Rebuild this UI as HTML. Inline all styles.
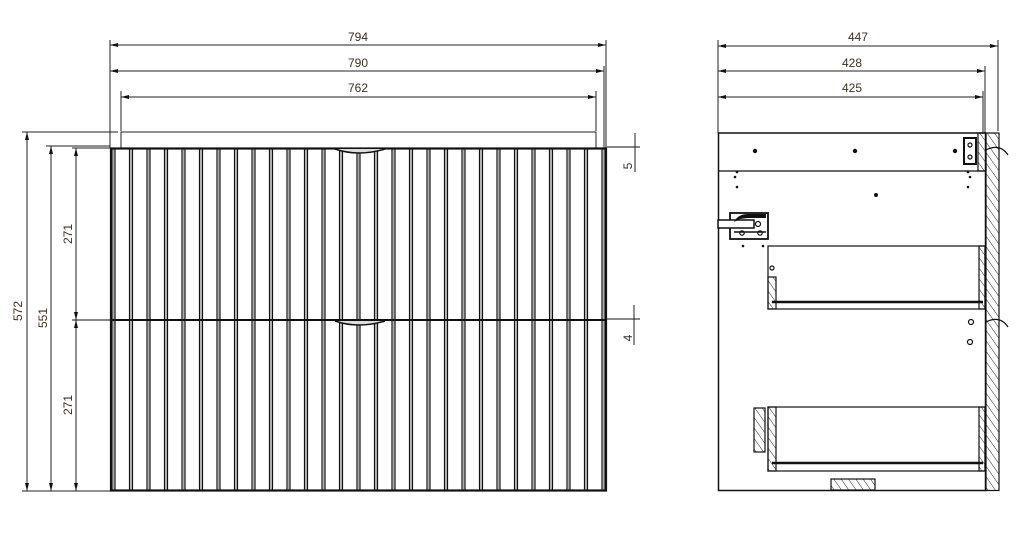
<!DOCTYPE html>
<html><head><meta charset="utf-8"><style>
html,body{margin:0;padding:0;background:#fff;}
svg{display:block;}
text{font-family:"Liberation Sans",sans-serif;font-size:12px;fill:#3a3020;}
</style></head><body>
<svg width="1024" height="552" viewBox="0 0 1024 552" xmlns="http://www.w3.org/2000/svg">
<defs>
<pattern id="slat" patternUnits="userSpaceOnUse" x="128.5" y="0" width="17.5" height="10">
<line x1="1" y1="0" x2="1" y2="10" stroke="#111" stroke-width="1.2"/>
<line x1="2.5" y1="0" x2="2.5" y2="10" stroke="#aaa" stroke-width="1.5"/>
<line x1="4" y1="0" x2="4" y2="10" stroke="#111" stroke-width="1.2"/>
</pattern>
<pattern id="hatch" patternUnits="userSpaceOnUse" width="6" height="6" patternTransform="rotate(-35)">
<line x1="0" y1="0" x2="0" y2="6" stroke="#222" stroke-width="1"/>
</pattern>
<marker id="ar" markerWidth="8" markerHeight="6" refX="8" refY="3" orient="auto-start-reverse" markerUnits="userSpaceOnUse">
<path d="M0,1 L8,3 L0,5 Z" fill="#111"/>
</marker>
</defs>
<g stroke="#222" stroke-width="1" fill="none">
<line x1="110" y1="40" x2="110" y2="148"/>
<line x1="606" y1="40" x2="606" y2="148"/>
<line x1="604" y1="66" x2="604" y2="148"/>
<line x1="121" y1="91" x2="121" y2="131"/>
<line x1="596" y1="91" x2="596" y2="131"/>
<line x1="110" y1="45" x2="606" y2="45" marker-start="url(#ar)" marker-end="url(#ar)"/>
<line x1="110" y1="71" x2="604" y2="71" marker-start="url(#ar)" marker-end="url(#ar)"/>
<line x1="121" y1="97" x2="596" y2="97" marker-start="url(#ar)" marker-end="url(#ar)"/>
<rect x="121" y="132" width="475" height="16"/>
<line x1="22" y1="132" x2="118" y2="132"/>
<line x1="46" y1="146" x2="110" y2="146"/>
<line x1="72" y1="148" x2="110" y2="148"/>
<line x1="72" y1="320" x2="110" y2="320" stroke="#888" stroke-width="2"/>
<line x1="22" y1="491" x2="110" y2="491"/>
<line x1="27" y1="132" x2="27" y2="491" marker-start="url(#ar)" marker-end="url(#ar)"/>
<line x1="51" y1="146" x2="51" y2="491" marker-start="url(#ar)" marker-end="url(#ar)"/>
<line x1="76" y1="148" x2="76" y2="320" marker-start="url(#ar)" marker-end="url(#ar)"/>
<line x1="76" y1="320" x2="76" y2="491" marker-start="url(#ar)" marker-end="url(#ar)"/>
<line x1="606" y1="147" x2="640" y2="147" stroke="#888" stroke-width="2"/>
<line x1="635" y1="133" x2="635" y2="172"/>
<line x1="606" y1="319" x2="640" y2="319" stroke="#888" stroke-width="2"/>
<line x1="634" y1="305" x2="634" y2="345"/>
</g>
<rect x="111" y="148" width="495" height="172" fill="url(#slat)"/>
<rect x="111" y="321" width="495" height="169" fill="url(#slat)"/>
<g stroke="#111" fill="none">
<rect x="111" y="148.5" width="495" height="342" stroke-width="2.2"/>
<line x1="111" y1="320" x2="606" y2="320" stroke-width="2"/>
<path d="M265,148.5 L450,148.5" stroke-width="2"/>
<path d="M335,149 Q358,157 385,149" stroke-width="1.5" fill="#ddd"/>
<path d="M335,321 Q358,329 385,321" stroke-width="1.5" fill="#ddd"/>
</g>
<text x="358" y="41" text-anchor="middle">794</text>
<text x="358" y="67" text-anchor="middle">790</text>
<text x="358" y="92" text-anchor="middle">762</text>
<text transform="translate(22,311) rotate(-90)" text-anchor="middle">572</text>
<text transform="translate(47,318) rotate(-90)" text-anchor="middle">551</text>
<text transform="translate(72,234) rotate(-90)" text-anchor="middle">271</text>
<text transform="translate(72,405) rotate(-90)" text-anchor="middle">271</text>
<text transform="translate(632,166) rotate(-90)" text-anchor="middle">5</text>
<text transform="translate(632,338) rotate(-90)" text-anchor="middle">4</text>
<g stroke="#222" stroke-width="1" fill="none">
<line x1="718" y1="40" x2="718" y2="133"/>
<line x1="998" y1="40" x2="998" y2="131"/>
<line x1="985" y1="66" x2="985" y2="133"/>
<line x1="983" y1="91" x2="983" y2="133"/>
<line x1="718" y1="46" x2="998" y2="46" marker-start="url(#ar)" marker-end="url(#ar)"/>
<line x1="718" y1="71" x2="985" y2="71" marker-start="url(#ar)" marker-end="url(#ar)"/>
<line x1="718" y1="97" x2="983" y2="97" marker-start="url(#ar)" marker-end="url(#ar)"/>
</g>
<text x="858" y="41" text-anchor="middle">447</text>
<text x="852" y="67" text-anchor="middle">428</text>
<text x="852" y="92" text-anchor="middle">425</text>
<g stroke="#111" fill="none" stroke-width="1.2">
<rect x="718.5" y="133" width="267" height="357.5" stroke-width="1.5"/>
<line x1="718" y1="171" x2="986" y2="171"/>
<rect x="986" y="133" width="13" height="357.5" fill="url(#hatch)"/>
<rect x="978" y="133" width="8" height="38" fill="url(#hatch)"/>
<rect x="964" y="138" width="12" height="26" fill="#fff" stroke-width="2"/>
<circle cx="970" cy="145" r="2"/><circle cx="970" cy="157" r="2"/>
<path d="M986,150 Q1000,143 1008,155"/>
<path d="M986,322 Q1000,315 1008,327"/>
<rect x="768" y="246" width="217" height="63"/>
<rect x="768" y="277" width="8" height="32" fill="url(#hatch)"/>
<rect x="979" y="246" width="6" height="63" fill="url(#hatch)"/>
<line x1="772" y1="302" x2="983" y2="302" stroke-width="2.5"/>
<rect x="768" y="407" width="217" height="64"/>
<rect x="768" y="407" width="8" height="64" fill="url(#hatch)"/>
<rect x="979" y="407" width="6" height="64" fill="url(#hatch)"/>
<line x1="772" y1="463" x2="983" y2="463" stroke-width="2.5"/>
<rect x="754" y="408" width="11" height="44" fill="url(#hatch)"/>
<rect x="831" y="479" width="44" height="11" fill="url(#hatch)"/>
<rect x="730" y="213" width="38" height="26" fill="#fff" stroke-width="1.8"/>
<rect x="718" y="220" width="36" height="8" fill="#fff" stroke-width="1.5"/>
<line x1="734" y1="232" x2="766" y2="232" stroke-width="1.5"/>
<circle cx="742" cy="233" r="2.2"/><circle cx="760" cy="233" r="2.2"/><circle cx="758" cy="224" r="2.5"/>
<circle cx="971" cy="322" r="2.5"/><circle cx="970" cy="342" r="2.5"/>
<circle cx="772" cy="268" r="2"/>
</g>
<g fill="#111">
<circle cx="755" cy="151" r="2.2"/><circle cx="855" cy="151" r="2.2"/><circle cx="955" cy="151" r="2.2"/>
<circle cx="737" cy="172" r="1.3"/><circle cx="735" cy="177" r="1.3"/><circle cx="737" cy="187" r="1.3"/>
<circle cx="968" cy="172" r="1.3"/><circle cx="970" cy="177" r="1.3"/><circle cx="968" cy="187" r="1.3"/>
<circle cx="876" cy="195" r="2"/>
<circle cx="743" cy="246" r="1.3"/><circle cx="763" cy="246" r="1.3"/>
<path d="M734,222 Q738,214 748,214 L748,218 L740,219 Z"/>
<rect x="748" y="214" width="18" height="4"/>
</g>
</svg>
</body></html>
